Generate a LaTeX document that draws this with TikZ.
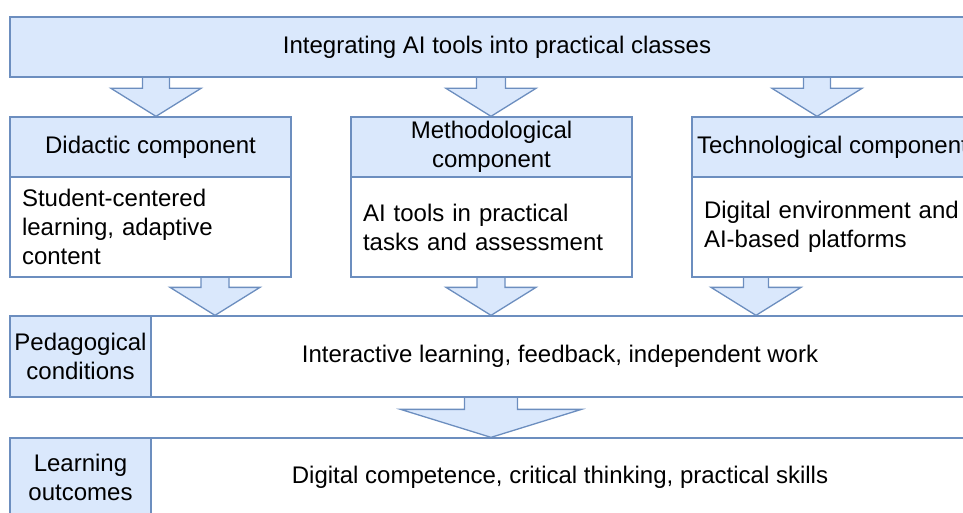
\documentclass[tikz,border=0pt]{standalone}
\usepackage{fontspec}
\setmainfont{Liberation Sans}
\usetikzlibrary{calc}
\definecolor{boxfill}{HTML}{DAE8FC}
\definecolor{boxline}{HTML}{6C8EBF}
\pgfdeclarelayer{background}
\pgfsetlayers{background,main}
\newcommand{\blockarrow}[6]{%
  \begin{pgfonlayer}{background}
  \filldraw[arrowbody] ($(#1 |- #2.south)+(-#4,0)$)--($(#1 |- #3.north)+(-#4,-#6)$)
    --($(#1 |- #3.north)+(-#5,-#6)$)--(#1 |- #3.north)
    --($(#1 |- #3.north)+(#5,-#6)$)--($(#1 |- #3.north)+(#4,-#6)$)
    --($(#1 |- #2.south)+(#4,0)$);
  \end{pgfonlayer}}

\begin{document}
\begin{tikzpicture}[x=1pt,y=-1pt,
    every node/.style={font=\fontsize{24}{29}\selectfont, inner sep=0pt},
    bluebox/.style={draw=boxline, fill=boxfill, line width=1.3pt, align=center},
    whitebox/.style={draw=boxline, fill=white, line width=1.3pt},
    arrowbody/.style={draw=boxline, fill=boxfill, line width=1.3pt, line join=miter}]
                \clip (0,0) rectangle (963,513);
                \node[bluebox, minimum width=974, minimum height=60] (title) at (497,47) {Integrating AI tools into practical classes};
                \node[bluebox, minimum width=281, minimum height=60] (didhead) at (150.5,147) {Didactic component};
                \node[whitebox, text width=257, inner xsep=12, minimum height=100, align=left] (didbody) at (150.5,227) {Student-centered\\learning, adaptive\\content};
                \node[bluebox, minimum width=281, minimum height=60] (methhead) at (491.5,147) {Methodological\\component};
                \node[whitebox, text width=257, inner xsep=12, minimum height=100, align=left] (methbody) at (491.5,227) {AI tools in practical\\tasks and assessment};
                \node[bluebox, minimum width=281, minimum height=60] (techhead) at (832.5,147) {Technological component};
                \node[whitebox, text width=257, inner xsep=12, minimum height=100, align=left] (techbody) at (832.5,227) {Digital environment and\\AI-based platforms};
                \node[bluebox, minimum width=141, minimum height=81] (condlabel) at (80.5,356.5) {Pedagogical\\conditions};
                \node[whitebox, minimum width=818, minimum height=81] (condtext) at (560,356.5) {Interactive learning, feedback, independent work};
                \node[bluebox, minimum width=141, minimum height=79] (outlabel) at (80.5,477.5) {Learning\\outcomes};
                \node[whitebox, minimum width=818, minimum height=79] (outtext) at (560,477.5) {Digital competence, critical thinking, practical skills};
                \coordinate (d1) at (156,0);
                \coordinate (m1) at (491,0);
                \coordinate (t1) at (817,0);
                \coordinate (d2) at (215,0);
                \coordinate (m2) at (491,0);
                \coordinate (t2) at (756,0);
                \coordinate (c1) at (491,0);
                \blockarrow{d1}{title}{didhead}{13.5}{45}{28}
                \blockarrow{m1}{title}{methhead}{14.5}{45}{28}
                \blockarrow{t1}{title}{techhead}{13.5}{45}{28}
                \blockarrow{d2}{didbody}{condtext}{14}{45}{28}
                \blockarrow{m2}{methbody}{condtext}{14}{45}{28}
                \blockarrow{t2}{techbody}{condtext}{12.5}{45}{28}
                \blockarrow{c1}{condtext}{outtext}{26.5}{90.5}{28}
\end{tikzpicture}
\end{document}
